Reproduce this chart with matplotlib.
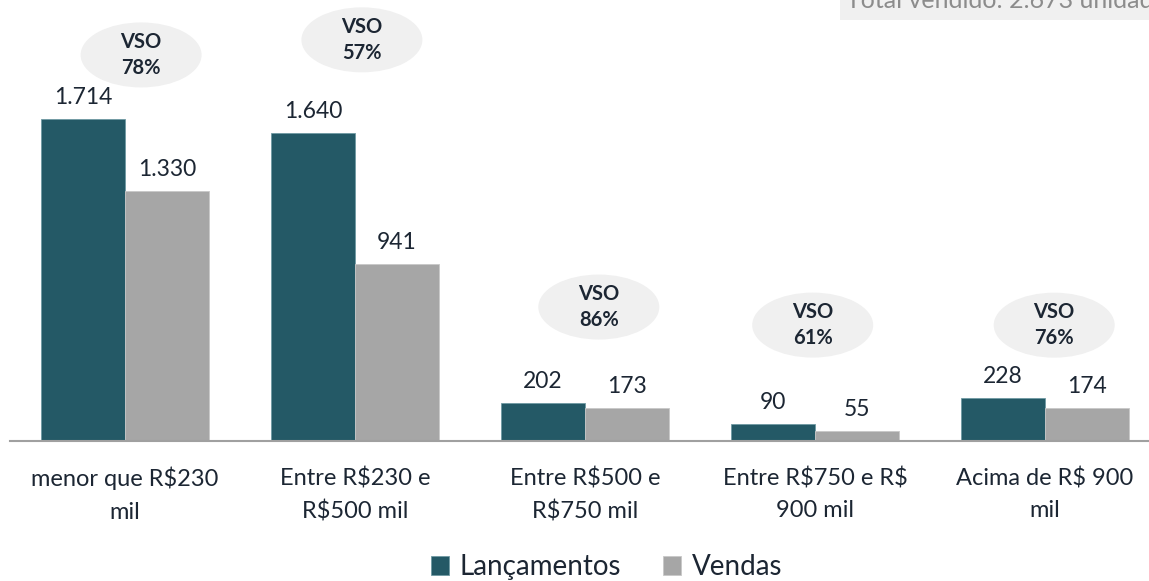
import matplotlib.pyplot as plt
from matplotlib.patches import Ellipse
import numpy as np

plt.rcParams['font.family'] = ['Lato', 'DejaVu Sans']
plt.rcParams['text.parse_math'] = False

# data
categorias = ['menor que R$230\nmil', 'Entre R$230 e\nR$500 mil', 'Entre R$500 e\nR$750 mil',
              'Entre R$750 e R$\n900 mil', 'Acima de R$ 900\nmil']
lancamentos = [1714, 1640, 202, 90, 228]
vendas = [1330, 941, 173, 55, 174]
vso = ['78%', '57%', '86%', '61%', '76%']
rotulos_lanc = ['1.714', '1.640', '202', '90', '228']
rotulos_vend = ['1.330', '941', '173', '55', '174']
total_txt = 'Total vendido: 2.673 unidades'

cor_lanc = '#245966'
cor_vend = '#a6a6a6'
cor_txt = '#1c2633'

# balloon offsets (group units, pixels above highest bar)
bal_dx = [0.07, 0.03, 0.06, -0.01, 0.04]
bal_dy = [64, 93, 96, 99, 73]

fig = plt.figure(figsize=(11.49, 5.81), dpi=100)
ax = fig.add_axes([0, 0, 1, 1])

px_y = 0.1879  # pixels per unit
ax.set_xlim(-125 / 230, 1024 / 230)
ax.set_ylim(-140 / px_y, 441 / px_y)

x = np.arange(len(categorias))
w = 84 / 230
ax.bar(x - w / 2, lancamentos, w, color=cor_lanc, edgecolor='#6f9aa3', linewidth=0.6, label='Lançamentos')
ax.bar(x + w / 2, vendas, w, color=cor_vend, edgecolor='#c8c8c8', linewidth=0.6, label='Vendas')

ax.axhline(0, xmin=10 / 1149, color='#a0a0a0', linewidth=1.5)

for i in range(len(x)):
    ax.annotate(rotulos_lanc[i], (x[i] - w / 2, lancamentos[i]), xytext=(0, 8), textcoords='offset points',
                ha='center', va='bottom', fontsize=16.5, color=cor_txt)
    ax.annotate(rotulos_vend[i], (x[i] + w / 2, vendas[i]), xytext=(0, 8), textcoords='offset points',
                ha='center', va='bottom', fontsize=16.5, color=cor_txt)
    topo = max(lancamentos[i], vendas[i]) + bal_dy[i] / px_y
    cx = x[i] + bal_dx[i]
    ax.add_patch(Ellipse((cx, topo), 121 / 230, 65 / px_y, facecolor='#f0f0f0', edgecolor='none', zorder=1))
    ax.text(cx, topo, 'VSO\n' + vso[i], ha='center', va='center', fontsize=14.5, fontweight='bold',
            color=cor_txt, linespacing=1.4, zorder=2)
    ax.text(x[i], -26 / px_y, categorias[i], ha='center', va='top', fontsize=17, color=cor_txt,
            linespacing=1.65)

ax.axis('off')

# cropped total box at top right
fig.patches.append(plt.Rectangle((840 / 1149, 1 - 20 / 581), 1, 20 / 581, transform=fig.transFigure,
                                 facecolor='#f0f0f0', edgecolor='none'))
fig.text(846 / 1149, 1 - 1 / 581, total_txt, ha='left', va='center', fontsize=18, color='#8c8c8c')

fig.legend(loc='center', bbox_to_anchor=(0.528, 1 - 567 / 581), ncol=2, frameon=False, fontsize=20,
           handlelength=0.65, handleheight=0.65, handletextpad=0.4, columnspacing=1.5, labelcolor=cor_txt)

fig.savefig('out.png', dpi=100)
